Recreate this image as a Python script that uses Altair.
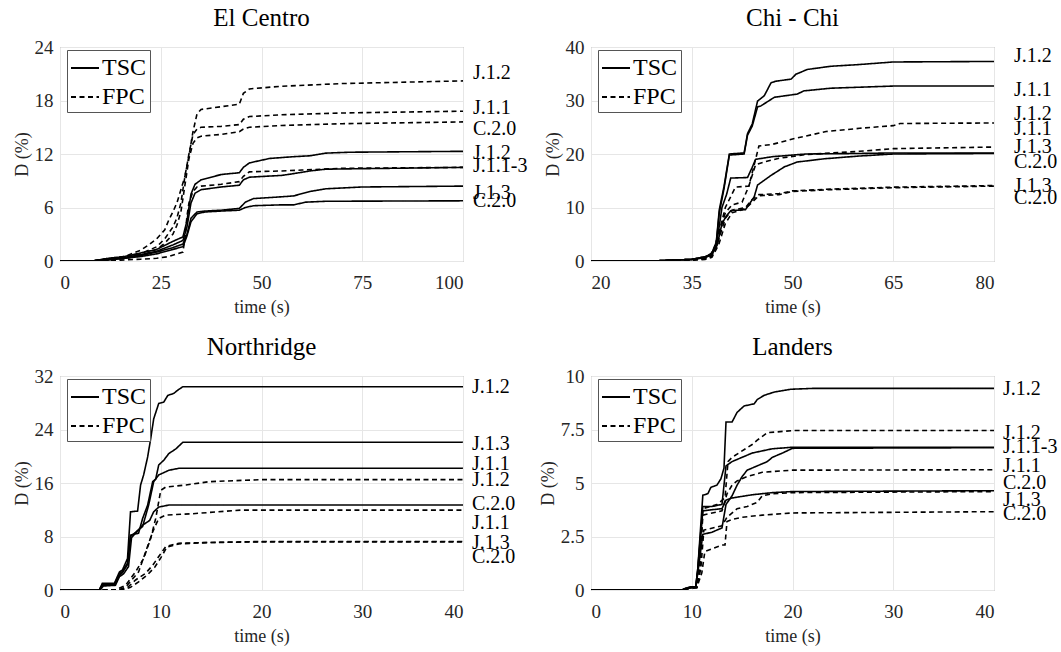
import altair as alt
import pandas as pd

FONT = "Liberation Serif"

# ---------------- El Centro (time 0-100 s, D 0-24 %) ----------------
EC_TSC_J12_T = [0, 8, 12, 16, 20, 24, 28, 30.5, 31.5, 32.5, 33.5, 35, 40, 44.5, 45.5, 47, 52, 58, 62, 66, 72, 100]
EC_TSC_J12_D = [0, 0, 0.3, 0.5, 0.9, 1.3, 2.2, 2.7, 4.5, 7.5, 8.6, 9.1, 9.7, 9.9, 10.5, 11.0, 11.5, 11.7, 11.8, 12.1, 12.2, 12.3]
EC_TSC_J11_T = [0, 8, 12, 16, 20, 24, 28, 30.5, 31.5, 32.5, 33.5, 35, 40, 44.5, 45.5, 47, 55, 58, 62, 66, 100]
EC_TSC_J11_D = [0, 0, 0.2, 0.4, 0.7, 1.1, 1.8, 2.3, 3.8, 6.5, 7.6, 8.0, 8.3, 8.5, 9.1, 9.4, 9.6, 9.8, 10.1, 10.3, 10.5]
EC_TSC_J13_T = [0, 8, 12, 16, 20, 24, 28, 30.5, 31.5, 32.5, 34, 36, 40, 44.5, 46, 48, 55, 58, 62, 66, 75, 100]
EC_TSC_J13_D = [0, 0, 0.2, 0.3, 0.6, 1.0, 1.5, 1.9, 3.0, 4.8, 5.5, 5.6, 5.7, 5.9, 6.6, 7.0, 7.2, 7.3, 7.8, 8.1, 8.3, 8.4]
EC_TSC_C20_T = [0, 8, 12, 16, 20, 24, 28, 30.5, 31.5, 32.5, 34, 36, 40, 44.5, 46, 48, 55, 58, 61, 66, 100]
EC_TSC_C20_D = [0, 0, 0.1, 0.3, 0.5, 0.8, 1.3, 1.6, 2.8, 4.4, 5.3, 5.5, 5.6, 5.7, 6.0, 6.2, 6.3, 6.3, 6.6, 6.7, 6.75]
EC_FPC_J12_T = [0, 8, 12, 16, 20, 22, 24, 26, 27, 28, 29, 30, 31, 32, 33, 34, 35, 40, 44.5, 45.5, 47, 55, 70, 100]
EC_FPC_J12_D = [0, 0, 0.3, 0.5, 1.2, 1.8, 2.5, 3.5, 4.6, 5.5, 6.5, 8.0, 9.5, 11.8, 14.5, 16.5, 17.0, 17.3, 17.6, 18.8, 19.3, 19.6, 19.9, 20.2]
EC_FPC_J11_T = [0, 8, 12, 16, 20, 24, 26, 28, 29, 30, 31, 32, 33, 34, 35, 40, 44.5, 45.5, 47, 55, 70, 100]
EC_FPC_J11_D = [0, 0, 0.2, 0.4, 0.8, 1.6, 2.5, 3.8, 4.8, 6.5, 9.5, 12.0, 14.2, 14.8, 15.0, 15.1, 15.3, 15.9, 16.2, 16.4, 16.6, 16.8]
EC_FPC_C20_T = [0, 8, 12, 16, 20, 24, 26, 28, 29, 30, 31, 32, 33, 34, 35, 40, 44.5, 45.5, 47, 55, 70, 100]
EC_FPC_C20_D = [0, 0, 0.2, 0.3, 0.6, 1.3, 2.0, 3.0, 4.0, 5.5, 8.5, 11.5, 13.2, 13.8, 14.0, 14.2, 14.5, 14.8, 15.0, 15.2, 15.4, 15.6]
EC_FPC_J13_T = [0, 10, 15, 20, 24, 27, 29, 30.5, 31, 31.5, 32, 33, 34, 35, 40, 44.5, 45.5, 47, 55, 60, 70, 100]
EC_FPC_J13_D = [0, 0, 0.1, 0.2, 0.3, 0.5, 0.8, 1.0, 2.5, 5.0, 6.5, 7.8, 8.3, 8.4, 8.6, 8.9, 9.5, 10.0, 10.1, 10.2, 10.4, 10.5]
EC_LABELS = ["J.1.2", "J.1.1", "C.2.0", "J.1.2", "J.1.1-3", "J.1.3", "C.2.0"]
EC_LABEL_Y = [21.1, 17.15, 14.8, 12.1, 10.6, 7.6, 6.7]

# ---------------- Chi - Chi (time 20-80 s, D 0-40 %) ----------------
CC_TSC_J12_T = [20, 30, 35, 37, 37.8, 38.6, 39.1, 39.8, 40.6, 42.8, 43.3, 44, 44.8, 45.8, 46.8, 47.5, 49.8, 50.5, 52.2, 55.7, 59.7, 65, 80]
CC_TSC_J12_D = [0, 0.05, 0.3, 0.8, 1.2, 2.8, 9.6, 13.9, 20.0, 20.2, 23.8, 25.6, 29.9, 30.9, 33.3, 33.6, 34.0, 34.9, 35.8, 36.4, 36.7, 37.2, 37.3]
CC_TSC_J11_T = [20, 30, 35, 37, 37.8, 38.6, 39.1, 39.8, 40.6, 42.8, 43.3, 44, 44.8, 45.3, 47.3, 50.7, 51.7, 55.7, 65, 80]
CC_TSC_J11_D = [0, 0.05, 0.3, 0.8, 1.2, 2.6, 9.0, 13.5, 19.8, 20.0, 23.5, 25.2, 28.8, 29.0, 30.6, 31.2, 31.8, 32.3, 32.7, 32.7]
CC_TSC_J13_T = [20, 30, 35, 37, 38, 38.8, 39.5, 40.2, 40.8, 43.3, 44, 44.5, 47, 52, 60, 65, 80]
CC_TSC_J13_D = [0, 0.05, 0.3, 0.7, 1.5, 4.0, 10.0, 12.5, 15.5, 15.6, 17.5, 19.0, 19.5, 20.0, 20.1, 20.2, 20.2]
CC_TSC_C20_T = [20, 30, 35, 37, 38, 38.8, 39.5, 40.2, 40.8, 43, 44.3, 44.8, 46.8, 48.8, 50.7, 54.7, 59.7, 65, 80]
CC_TSC_C20_D = [0, 0.05, 0.3, 0.6, 1.2, 3.0, 7.0, 8.5, 9.4, 9.6, 12.0, 14.2, 16.0, 17.6, 18.5, 19.1, 19.6, 20.0, 20.1]
CC_FPC_J12_T = [20, 30, 35, 37, 38, 39, 40, 41.5, 43.5, 44.5, 45, 47, 50, 55, 60, 65, 66, 80]
CC_FPC_J12_D = [0, 0.03, 0.2, 0.5, 1.0, 5.0, 10.0, 13.8, 14.0, 19.0, 21.5, 21.8, 22.8, 24.2, 24.8, 25.3, 25.7, 25.8]
CC_FPC_J11_T = [20, 30, 35, 37, 38, 39, 40, 41, 42.5, 43.5, 44.5, 46, 48, 52, 60, 65, 80]
CC_FPC_J11_D = [0, 0.03, 0.2, 0.5, 1.0, 5.0, 9.0, 10.5, 11.0, 14.0, 18.0, 18.6, 19.2, 19.9, 20.5, 21.0, 21.3]
CC_FPC_J13_T = [20, 30, 35, 37, 38, 39, 40, 41, 43, 44, 45, 48, 50, 55, 65, 80]
CC_FPC_J13_D = [0, 0.03, 0.2, 0.4, 0.9, 4.0, 8.0, 9.5, 10.0, 11.5, 12.4, 12.6, 13.1, 13.4, 13.8, 14.1]
CC_FPC_C20_T = [20, 30, 35, 37, 38, 39, 40, 41, 43, 44, 45, 48, 50, 55, 65, 80]
CC_FPC_C20_D = [0, 0.03, 0.15, 0.3, 0.7, 3.0, 7.0, 9.0, 9.8, 11.0, 12.2, 12.4, 13.0, 13.3, 13.7, 14.0]
CC_LABELS = ["J.1.2", "J.1.1", "J.1.2", "J.1.1", "J.1.3", "C.2.0", "J.1.3", "C.2.0"]
CC_LABEL_Y = [38.3, 32.0, 27.5, 24.7, 21.3, 18.5, 14.0, 11.7]

# ---------------- Northridge (time 0-40 s, D 0-32 %) ----------------
NR_TSC_J12_T = [0, 3.9, 4.2, 5.4, 5.9, 6.2, 6.7, 7.0, 7.7, 8.0, 8.3, 8.7, 9.0, 9.3, 9.8, 10.3, 10.7, 11.3, 11.7, 12.2, 40]
NR_TSC_J12_D = [0, 0, 1.0, 1.0, 2.7, 3.0, 4.7, 11.7, 11.8, 15.7, 17.2, 19.9, 22.6, 25.6, 27.9, 28.1, 29.1, 29.4, 29.9, 30.4, 30.4]
NR_TSC_J13_T = [0, 3.9, 4.2, 5.4, 5.9, 6.2, 6.7, 7.0, 7.8, 8.2, 8.7, 9.2, 9.5, 9.8, 10.3, 10.8, 11.5, 12.2, 40]
NR_TSC_J13_D = [0, 0, 0.8, 0.9, 2.4, 2.8, 4.0, 8.2, 8.5, 10.7, 12.7, 16.2, 16.6, 18.7, 19.4, 20.4, 21.1, 22.1, 22.1]
NR_TSC_J11_T = [0, 3.9, 4.2, 5.4, 5.9, 6.2, 6.7, 7.0, 8.2, 8.8, 9.3, 9.8, 10.8, 11.8, 40]
NR_TSC_J11_D = [0, 0, 0.7, 0.8, 2.2, 2.6, 3.8, 8.0, 9.5, 12.7, 16.2, 17.2, 17.9, 18.2, 18.2]
NR_TSC_C20_T = [0, 4.0, 4.3, 5.5, 5.9, 6.3, 6.8, 7.1, 8.2, 8.9, 9.3, 9.8, 10.8, 12, 40]
NR_TSC_C20_D = [0, 0, 0.6, 0.7, 2.0, 2.4, 3.5, 7.8, 9.7, 10.4, 11.7, 12.4, 12.7, 12.7, 12.7]
NR_FPC_J12_T = [0, 5.5, 6.5, 7.5, 8.3, 9.0, 9.5, 10.0, 10.5, 12.5, 14.8, 20, 40]
NR_FPC_J12_D = [0, 0, 0.7, 2.7, 4.7, 7.7, 10.7, 14.9, 15.4, 15.7, 16.2, 16.5, 16.5]
NR_FPC_J11_T = [0, 5.8, 6.5, 7.8, 8.5, 9.2, 9.8, 10.5, 13.1, 18, 40]
NR_FPC_J11_D = [0, 0, 0.4, 2.7, 5.7, 8.7, 10.7, 11.2, 11.4, 11.95, 11.95]
NR_FPC_J13_T = [0, 6.0, 6.8, 7.5, 8.5, 9.2, 9.8, 10.5, 11.8, 14.8, 20, 40]
NR_FPC_J13_D = [0, 0, 0.5, 1.5, 2.5, 3.7, 5.0, 6.5, 7.0, 7.1, 7.25, 7.25]
NR_FPC_C20_T = [0, 6.2, 7.0, 7.8, 8.7, 9.4, 10.0, 10.6, 11.8, 14.8, 20, 40]
NR_FPC_C20_D = [0, 0, 0.4, 1.2, 2.3, 3.4, 4.8, 6.4, 6.9, 7.1, 7.2, 7.2]
NR_LABELS = ["J.1.2", "J.1.3", "J.1.1", "J.1.2", "C.2.0", "J.1.1", "J.1.3", "C.2.0"]
NR_LABEL_Y = [30.3, 21.8, 18.9, 16.4, 12.9, 10.0, 7.0, 5.0]

# ---------------- Landers (time 0-40 s, D 0-10 %) ----------------
LA_TSC_J12_T = [0, 9, 9.4, 9.9, 10.4, 10.6, 11.1, 11.6, 11.9, 12.5, 12.9, 13.2, 13.4, 14, 14.5, 15.2, 16.2, 16.5, 17.2, 18.2, 19.8, 22, 40]
LA_TSC_J12_D = [0, 0, 0.08, 0.15, 0.15, 1.0, 4.43, 4.5, 4.8, 4.9, 5.2, 5.7, 7.85, 7.85, 8.3, 8.6, 8.7, 8.9, 9.1, 9.25, 9.38, 9.42, 9.42]
LA_TSC_J11_T = [0, 9, 9.4, 9.9, 10.4, 10.6, 11.1, 12, 13, 13.4, 14, 15, 16, 17, 18, 20, 40]
LA_TSC_J11_D = [0, 0, 0.08, 0.15, 0.15, 1.0, 3.9, 3.9, 4.0, 5.8, 6.0, 6.2, 6.4, 6.5, 6.6, 6.67, 6.67]
LA_TSC_J13_T = [0, 9, 9.4, 9.9, 10.4, 10.6, 11.1, 12, 13, 13.4, 14, 14.5, 15, 15.5, 16.5, 17.5, 18, 19, 20, 40]
LA_TSC_J13_D = [0, 0, 0.05, 0.1, 0.12, 0.8, 2.6, 2.7, 2.9, 4.0, 4.4, 4.9, 5.3, 5.6, 5.8, 6.0, 6.2, 6.4, 6.62, 6.65]
LA_TSC_C20_T = [0, 9, 9.4, 9.9, 10.4, 10.6, 11.1, 12, 13, 13.4, 14, 16, 18, 20, 40]
LA_TSC_C20_D = [0, 0, 0.05, 0.1, 0.12, 0.9, 3.7, 3.75, 3.8, 4.2, 4.3, 4.45, 4.55, 4.6, 4.64]
LA_FPC_J12_T = [0, 9, 9.9, 10.5, 10.8, 11.1, 12.5, 13.3, 13.6, 14, 15, 16, 16.5, 17.5, 20, 40]
LA_FPC_J12_D = [0, 0, 0.1, 0.12, 1.0, 3.8, 4.0, 4.3, 6.0, 6.2, 6.5, 6.8, 7.0, 7.35, 7.45, 7.45]
LA_FPC_J11_T = [0, 9, 9.9, 10.5, 10.8, 11.1, 13, 13.5, 14, 14.5, 15.5, 17, 20, 40]
LA_FPC_J11_D = [0, 0, 0.1, 0.12, 1.0, 3.5, 3.7, 4.5, 4.9, 5.1, 5.3, 5.5, 5.6, 5.62]
LA_FPC_J13_T = [0, 9, 9.9, 10.5, 10.9, 11.2, 13, 13.5, 14.5, 15.5, 16.5, 17, 18, 20, 40]
LA_FPC_J13_D = [0, 0, 0.1, 0.12, 1.0, 2.8, 3.0, 3.4, 3.8, 3.9, 4.1, 4.4, 4.5, 4.55, 4.6]
LA_FPC_C20_T = [0, 9, 9.9, 10.5, 11.0, 11.3, 13, 13.3, 13.5, 14, 15, 17, 20, 40]
LA_FPC_C20_D = [0, 0, 0.1, 0.12, 0.8, 1.8, 2.1, 2.1, 3.2, 3.3, 3.4, 3.5, 3.6, 3.66]
LA_LABELS = ["J.1.2", "J.1.2", "J.1.1-3", "J.1.1", "C.2.0", "J.1.3", "C.2.0"]
LA_LABEL_Y = [9.41, 7.34, 6.67, 5.78, 5.0, 4.22, 3.55]

PANEL_W = 403
PANEL_H = 214
LABEL_EXPR = "'' + datum.value"


def make_axis(values, title, xaxis):
    return alt.Axis(
        values=values, labelExpr=LABEL_EXPR, title=title,
        labelFont=FONT, titleFont=FONT, labelFontSize=19, titleFontSize=18,
        labelColor="#262626", titleColor="#262626", titleFontWeight="normal",
        grid=True, gridColor="#e6e6e6", gridWidth=1, domain=False, ticks=False,
        labelPadding=12 if xaxis else 7, titlePadding=6 if xaxis else 3,
    )


def make_panel(title, series, labels, label_y, xdom, xticks, ydom, yticks, label_dx):
    rows = []
    for name, typ, ts, ds in series:
        for i, (t, d) in enumerate(zip(ts, ds)):
            rows.append({"series": name, "type": typ, "t": t, "D": d, "i": i})
    df = pd.DataFrame(rows)
    xs = alt.Scale(domain=xdom, nice=False, zero=False)
    ys = alt.Scale(domain=ydom, nice=False, zero=False)
    lines = alt.Chart(df).mark_line(color="black", strokeWidth=1.6, clip=True).encode(
        x=alt.X("t:Q", scale=xs, axis=make_axis(xticks, "time (s)", True)),
        y=alt.Y("D:Q", scale=ys, axis=make_axis(yticks, "D (%)", False)),
        strokeDash=alt.StrokeDash(
            "type:N",
            scale=alt.Scale(domain=["TSC", "FPC"], range=[[1, 0], [5, 3.5]]),
            legend=alt.Legend(
                title=None, orient="none", legendX=7, legendY=3,
                fillColor="white", strokeColor="#555555", padding=3,
                symbolType="stroke", symbolSize=784, symbolStrokeWidth=2,
                symbolStrokeColor="black", labelFont=FONT, labelFontSize=24,
                labelColor="black", labelOffset=2, rowPadding=2,
            ),
        ),
        detail="series:N",
        order="i:Q",
    )
    ldf = pd.DataFrame({"label": labels, "y": label_y, "x": [xdom[1]] * len(labels)})
    text = alt.Chart(ldf).mark_text(
        align="left", baseline="middle", dx=label_dx, font=FONT, fontSize=20, color="black"
    ).encode(
        x=alt.X("x:Q", scale=xs, title="time (s)"),
        y=alt.Y("y:Q", scale=ys, title="D (%)"),
        text="label:N",
    )
    return alt.layer(lines, text).properties(
        width=PANEL_W, height=PANEL_H,
        title=alt.Title(title, frame="group", offset=7, fontSize=25, font=FONT,
                        fontWeight="normal", color="black", anchor="middle"),
    )


p1 = make_panel(
    "El Centro",
    [("TSC J.1.2", "TSC", EC_TSC_J12_T, EC_TSC_J12_D),
     ("TSC J.1.1", "TSC", EC_TSC_J11_T, EC_TSC_J11_D),
     ("TSC J.1.3", "TSC", EC_TSC_J13_T, EC_TSC_J13_D),
     ("TSC C.2.0", "TSC", EC_TSC_C20_T, EC_TSC_C20_D),
     ("FPC J.1.2", "FPC", EC_FPC_J12_T, EC_FPC_J12_D),
     ("FPC J.1.1", "FPC", EC_FPC_J11_T, EC_FPC_J11_D),
     ("FPC C.2.0", "FPC", EC_FPC_C20_T, EC_FPC_C20_D),
     ("FPC J.1.3", "FPC", EC_FPC_J13_T, EC_FPC_J13_D)],
    EC_LABELS, EC_LABEL_Y, [0, 100], [0, 25, 50, 75, 100], [0, 24], [0, 6, 12, 18, 24], 10,
)
p2 = make_panel(
    "Chi - Chi",
    [("TSC J.1.2", "TSC", CC_TSC_J12_T, CC_TSC_J12_D),
     ("TSC J.1.1", "TSC", CC_TSC_J11_T, CC_TSC_J11_D),
     ("TSC J.1.3", "TSC", CC_TSC_J13_T, CC_TSC_J13_D),
     ("TSC C.2.0", "TSC", CC_TSC_C20_T, CC_TSC_C20_D),
     ("FPC J.1.2", "FPC", CC_FPC_J12_T, CC_FPC_J12_D),
     ("FPC J.1.1", "FPC", CC_FPC_J11_T, CC_FPC_J11_D),
     ("FPC J.1.3", "FPC", CC_FPC_J13_T, CC_FPC_J13_D),
     ("FPC C.2.0", "FPC", CC_FPC_C20_T, CC_FPC_C20_D)],
    CC_LABELS, CC_LABEL_Y, [20, 80], [20, 35, 50, 65, 80], [0, 40], [0, 10, 20, 30, 40], 20,
)
p3 = make_panel(
    "Northridge",
    [("TSC J.1.2", "TSC", NR_TSC_J12_T, NR_TSC_J12_D),
     ("TSC J.1.3", "TSC", NR_TSC_J13_T, NR_TSC_J13_D),
     ("TSC J.1.1", "TSC", NR_TSC_J11_T, NR_TSC_J11_D),
     ("TSC C.2.0", "TSC", NR_TSC_C20_T, NR_TSC_C20_D),
     ("FPC J.1.2", "FPC", NR_FPC_J12_T, NR_FPC_J12_D),
     ("FPC J.1.1", "FPC", NR_FPC_J11_T, NR_FPC_J11_D),
     ("FPC J.1.3", "FPC", NR_FPC_J13_T, NR_FPC_J13_D),
     ("FPC C.2.0", "FPC", NR_FPC_C20_T, NR_FPC_C20_D)],
    NR_LABELS, NR_LABEL_Y, [0, 40], [0, 10, 20, 30, 40], [0, 32], [0, 8, 16, 24, 32], 9,
)
p4 = make_panel(
    "Landers",
    [("TSC J.1.2", "TSC", LA_TSC_J12_T, LA_TSC_J12_D),
     ("TSC J.1.1", "TSC", LA_TSC_J11_T, LA_TSC_J11_D),
     ("TSC J.1.3", "TSC", LA_TSC_J13_T, LA_TSC_J13_D),
     ("TSC C.2.0", "TSC", LA_TSC_C20_T, LA_TSC_C20_D),
     ("FPC J.1.2", "FPC", LA_FPC_J12_T, LA_FPC_J12_D),
     ("FPC J.1.1", "FPC", LA_FPC_J11_T, LA_FPC_J11_D),
     ("FPC J.1.3", "FPC", LA_FPC_J13_T, LA_FPC_J13_D),
     ("FPC C.2.0", "FPC", LA_FPC_C20_T, LA_FPC_C20_D)],
    LA_LABELS, LA_LABEL_Y, [0, 40], [0, 10, 20, 30, 40], [0, 10], [0, 2.5, 5, 7.5, 10], 9,
)

chart = alt.concat(
    p1, p2, p3, p4, columns=2, spacing={"row": 115, "column": 128}, bounds="flush"
).resolve_scale(
    strokeDash="independent"
).resolve_legend(strokeDash="independent").properties(
    padding={"left": 12, "top": 5, "right": 0, "bottom": 0}, background="white"
).configure_view(
    stroke="#8c8c8c", strokeWidth=1
)

chart.save("out.html", embed_options={"renderer": "svg", "actions": False})
